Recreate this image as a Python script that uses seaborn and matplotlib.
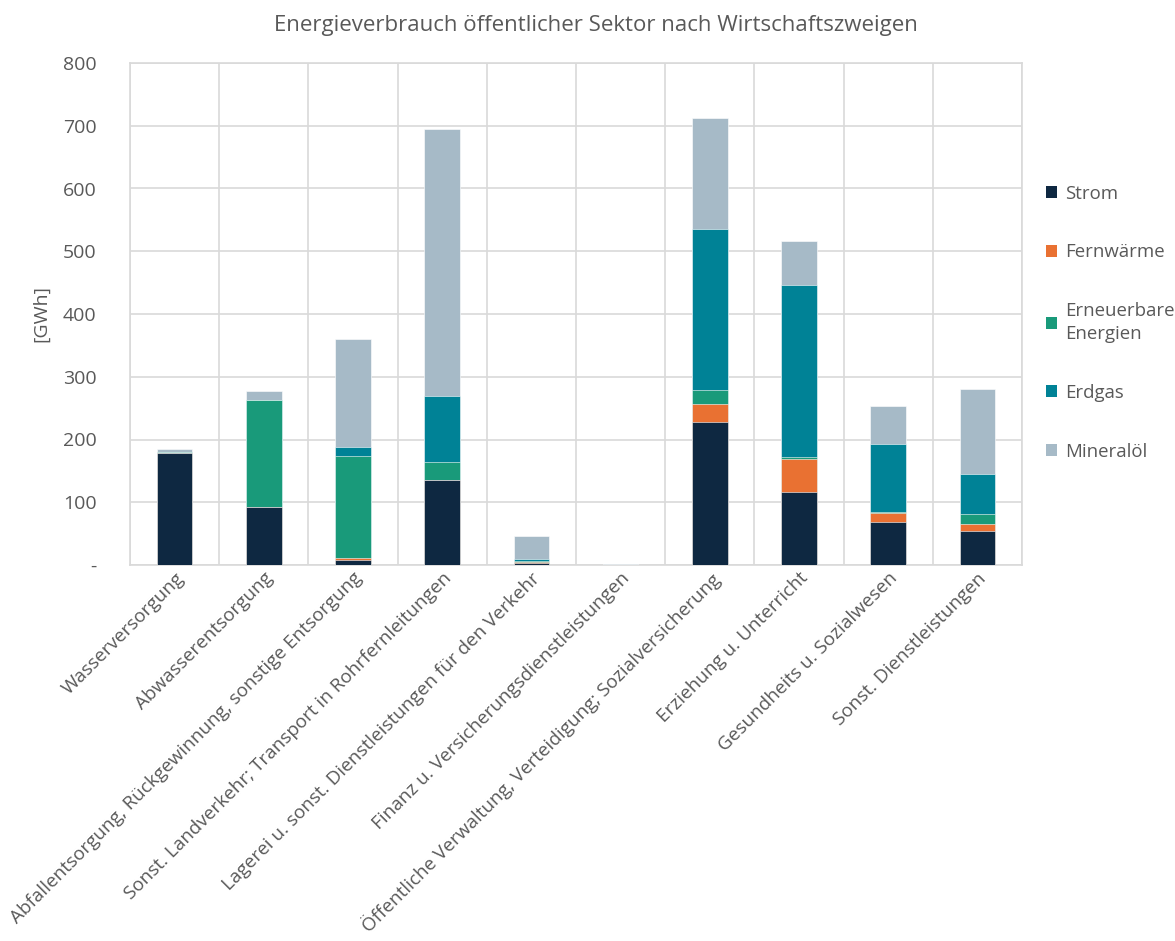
import numpy as np
import pandas as pd
import matplotlib
matplotlib.use("Agg")
import matplotlib.pyplot as plt
import seaborn as sns
from matplotlib.patches import Patch

categories = [
    "Wasserversorgung",
    "Abwasserentsorgung",
    "Abfallentsorgung, Rückgewinnung, sonstige Entsorgung",
    "Sonst. Landverkehr; Transport in Rohrfernleitungen",
    "Lagerei u. sonst. Dienstleistungen für den Verkehr",
    "Finanz u. Versicherungsdienstleistungen",
    "Öffentliche Verwaltung, Verteidigung; Sozialversicherung",
    "Erziehung u. Unterricht",
    "Gesundheits u. Sozialwesen",
    "Sonst. Dienstleistungen",
]
strom = [179, 92, 8, 136, 3, 0, 228, 117, 68, 54]
fernwaerme = [0, 0.5, 3, 0, 1, 0, 29, 52, 15, 11]
erneuerbare = [1, 171, 162, 28, 3, 0, 22, 3, 2, 16]
erdgas = [0, 0, 15, 106, 3, 0, 257, 275, 108, 64]
mineraloel = [5, 14, 172, 425, 37, 1, 176, 69, 61, 135]

series_names = ["Strom", "Fernwärme", "Erneuerbare\nEnergien", "Erdgas", "Mineralöl"]
series_values = [strom, fernwaerme, erneuerbare, erdgas, mineraloel]
colors = ["#0e2841", "#e97132", "#199a7a", "#008296", "#a6bac7"]
yticks = [0, 100, 200, 300, 400, 500, 600, 700, 800]
ytick_labels = ["-", "100", "200", "300", "400", "500", "600", "700", "800"]

sns.set_theme(style="white")
plt.rcParams["font.family"] = ["Open Sans", "DejaVu Sans"]
text_color = "#595959"
grid_color = "#d9d9d9"
fs = 14

fig = plt.figure(figsize=(11.75, 9.41), dpi=100)
ax = fig.add_axes([130 / 1175, 1 - 565 / 941, (1022 - 130) / 1175, (565 - 63) / 941])

cum = np.cumsum(np.array(series_values, dtype=float), axis=0)
for i in reversed(range(len(series_names))):
    df = pd.DataFrame({"cat": categories, "val": cum[i]})
    sns.barplot(data=df, x="cat", y="val", order=categories, color=colors[i],
                width=0.4, saturation=1, ax=ax, edgecolor="white", linewidth=0.4,
                zorder=3)

ax.set_xlim(-0.5, len(categories) - 0.5)
ax.set_ylim(0, 800)
ax.set_yticks(yticks)
ax.set_yticklabels(ytick_labels)
ax.set_xticks(range(len(categories)))
ax.set_xticklabels(categories, rotation=45, ha="right", rotation_mode="anchor")
ax.set_xticks(np.arange(-0.5, len(categories), 1), minor=True)
ax.tick_params(axis="y", length=0, pad=24, labelsize=fs, labelcolor=text_color)
ax.tick_params(axis="x", which="both", length=0, pad=3, labelsize=13.6, labelcolor=text_color)
ax.grid(axis="y", which="major", color=grid_color, linewidth=1.2, zorder=0)
ax.grid(axis="x", which="minor", color=grid_color, linewidth=1.2, zorder=0)
ax.grid(axis="x", which="major", visible=False)
for sp in ax.spines.values():
    sp.set_color(grid_color)
    sp.set_linewidth(1.2)
ax.set_xlabel("")
ax.set_ylabel("[GWh]", fontsize=fs, color=text_color, labelpad=9)
ax.set_axisbelow(True)

fig.text(0.5075, 0.973, "Energieverbrauch öffentlicher Sektor nach Wirtschaftszweigen",
         ha="center", va="center", fontsize=16, color=text_color)

handles = [Patch(facecolor=c, edgecolor="none") for c in colors]
leg = ax.legend(handles, series_names, loc="center left", bbox_to_anchor=(1.018, 0.483),
                frameon=False, fontsize=13.4, labelspacing=2.2, handlelength=0.62,
                handleheight=0.62, handletextpad=0.45, borderaxespad=0)
for t in leg.get_texts():
    t.set_color(text_color)
    t.set_linespacing(1.3)

fig.savefig("out.png", dpi=100)
